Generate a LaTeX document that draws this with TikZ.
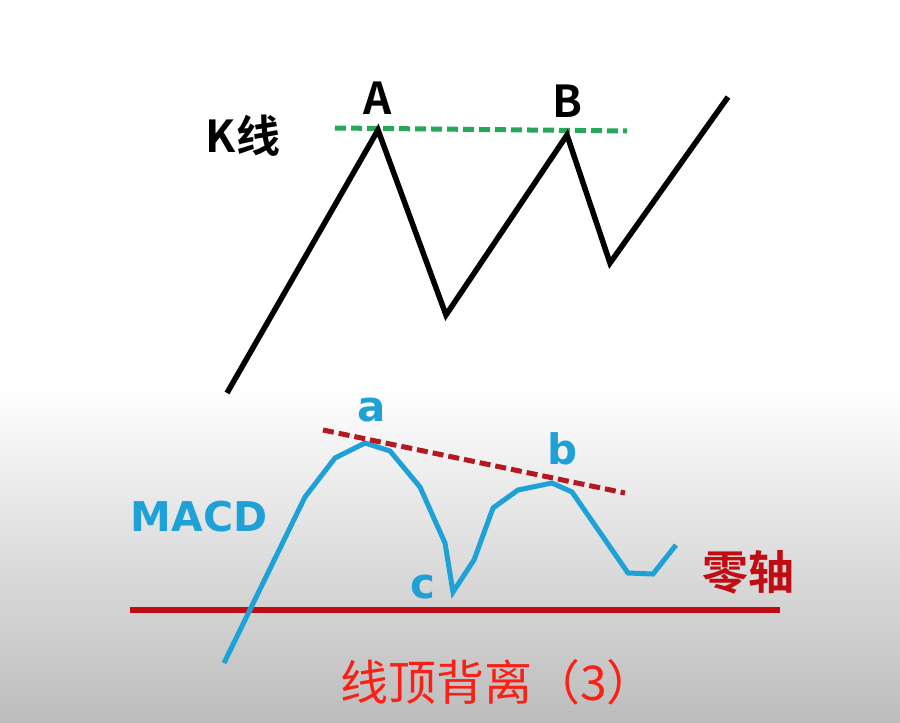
\documentclass[tikz,border=0pt]{standalone}
\usepackage{fontspec}
\setmainfont{DejaVu Sans}
\newfontfamily\cjk{Noto Sans CJK SC}[BoldFont={Noto Sans CJK SC Bold}]
\usetikzlibrary{positioning}

\definecolor{macdblue}{RGB}{29,161,214}
\definecolor{axisred}{RGB}{192,12,18}
\definecolor{slopered}{RGB}{182,24,34}
\definecolor{topgreen}{RGB}{38,168,88}
\definecolor{titlered}{RGB}{250,32,22}
\definecolor{bggray}{RGB}{188,188,188}

\begin{document}
\begin{tikzpicture}[
  x=1pt, y=-1pt,
  kline/.style={draw, line width=5.5pt, black},
  macd/.style={draw, line width=5pt, macdblue},
  guide/.style={draw, line width=5pt, dash pattern=on 11pt off 5pt, #1},
  peaklbl/.style={font=\cjk\bfseries\fontsize{44}{44}\selectfont, inner sep=0pt},
  bluelbl/.style={font=\bfseries\fontsize{42}{42}\selectfont, text=macdblue, inner sep=0pt},
]
\useasboundingbox (0,0) rectangle (900,723);
\fill[white] (0,0) rectangle (900,723);
\shade[top color=white, bottom color=bggray] (0,385) rectangle (900,723);

% K line
\coordinate (k0) at (227,393);
\coordinate (pA) at (378,130);
\coordinate (k1) at (446,315);
\coordinate (pB) at (567,135);
\coordinate (k2) at (610,263);
\coordinate (k3) at (728,97);
\draw[guide=topgreen] (335,128) coordinate (gl) -- (627,131) coordinate (gr);
\draw[kline] (k0) -- (pA) -- (k1) -- (pB) -- (k2) -- (k3);

\node[peaklbl, above=15pt of pA] (labA) {A};
\node[peaklbl, above=17pt of pB] (labB) {B};
\node[peaklbl] (klbl) at (243,136) {K线};

% MACD
\coordinate (pa) at (365,443);
\coordinate (pb) at (552,483);
\coordinate (pc) at (453,592);
\draw[axisred, line width=6pt] (130,610) coordinate (z0) -- (780,610) coordinate (z1);
\draw[macd] (224,663) -- (305,497) -- (335,458) -- (pa) -- (390,451) -- (420,487)
  -- (445,543) -- (pc) -- (474,560) -- (493,508) -- (518,490) -- (pb)
  -- (572,492) -- (628,573) -- (653,574) -- (676,545);
\draw[guide=slopered] (323,430) coordinate (sl) -- (625,493) coordinate (sr);

\node[bluelbl] (laba) at (372,410) {a};
\node[bluelbl] (labb) at (563,449) {b};
\node[bluelbl] (labc) at (423,587) {c};
\node[font=\bfseries\fontsize{41}{41}\selectfont, text=macdblue, inner sep=0pt] (macdlbl) at (199,517) {MACD};
\node[font=\cjk\bfseries\fontsize{46}{46}\selectfont, text=axisred, inner sep=0pt, anchor=west] (zerolbl) at (702,572) {零轴};
\node[font=\cjk\fontsize{48}{48}\selectfont, text=titlered, inner sep=0pt, anchor=west] (title) at (340,682) {线顶背离（3）};
\end{tikzpicture}
\end{document}
